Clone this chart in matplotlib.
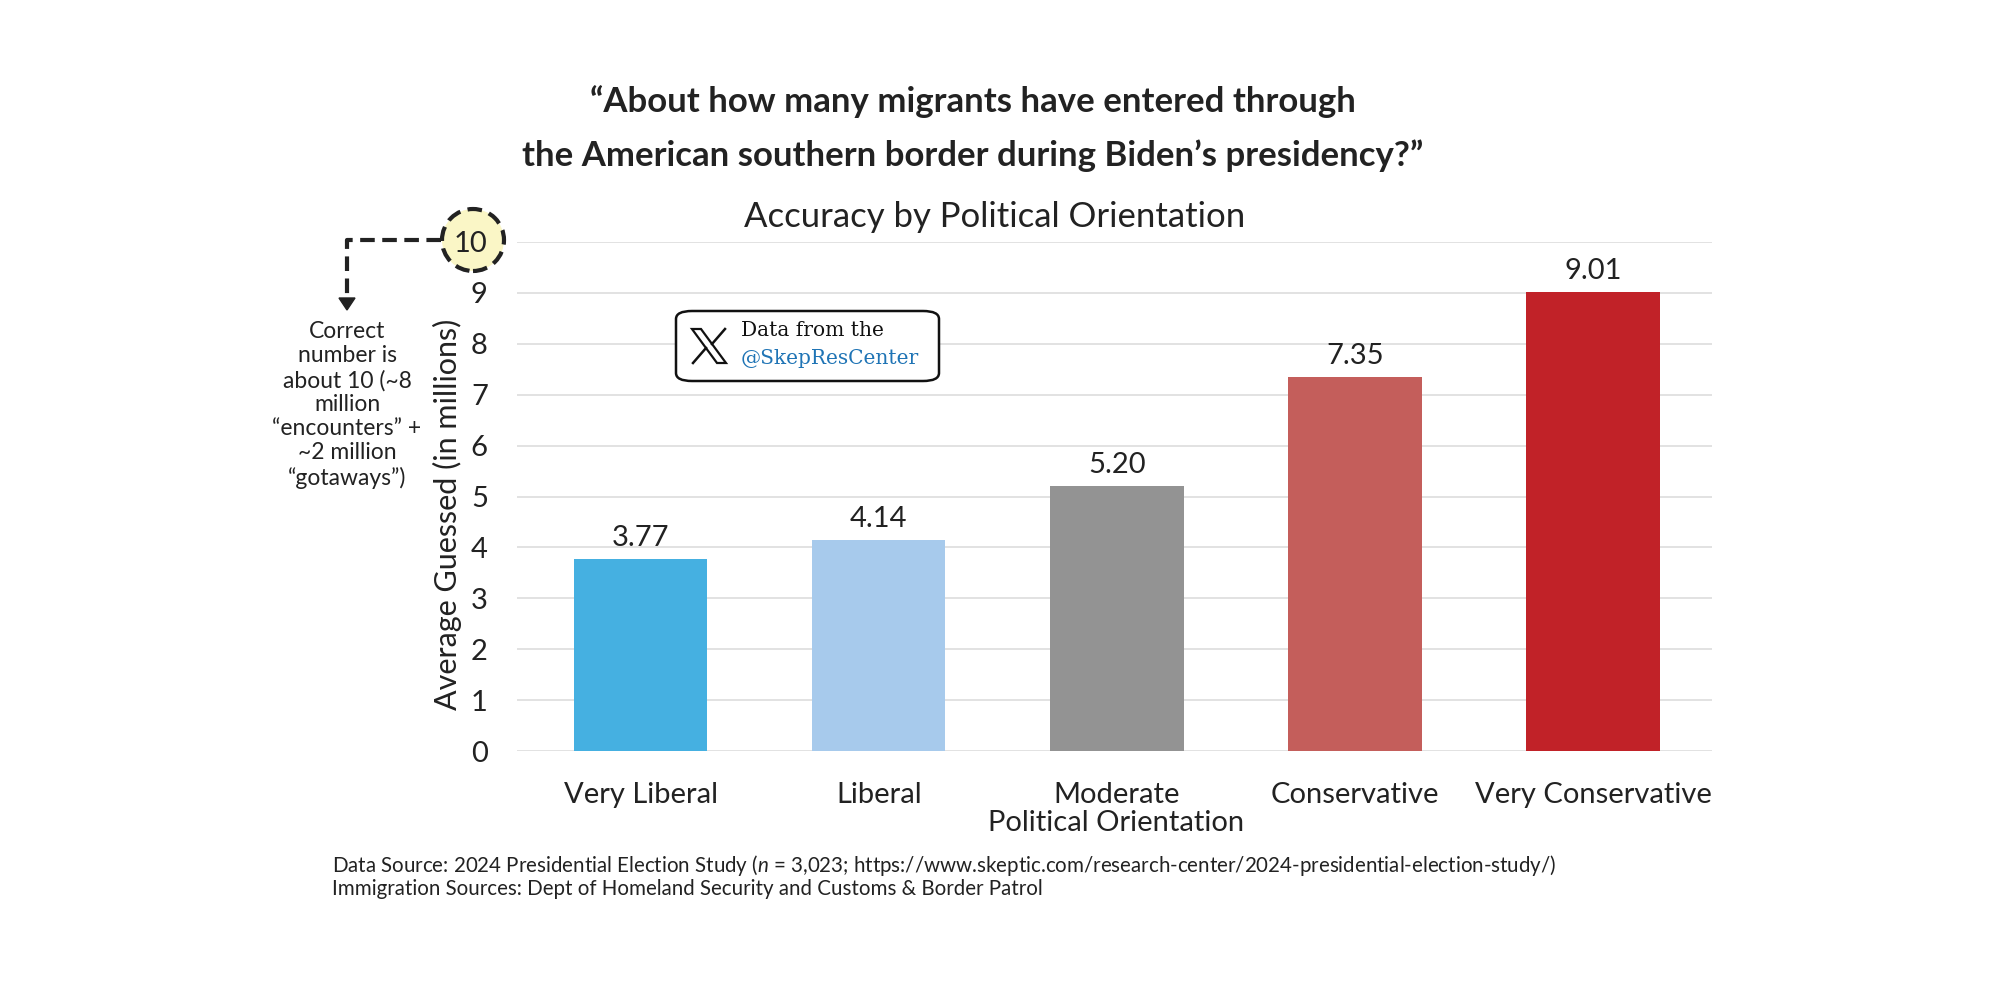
import matplotlib.pyplot as plt
from matplotlib.patches import Ellipse, FancyBboxPatch, Polygon
from matplotlib.lines import Line2D

plt.rcParams['font.family'] = ['Lato', 'DejaVu Sans']
plt.rcParams['mathtext.fontset'] = 'custom'
plt.rcParams['mathtext.it'] = 'Lato:italic'
plt.rcParams['mathtext.rm'] = 'Lato'

# data
categories = ['Very Liberal', 'Liberal', 'Moderate', 'Conservative', 'Very Conservative']
guesses = [3.77, 4.14, 5.20, 7.35, 9.01]
bar_colors = ['#45B0E1', '#A7CAEC', '#939393', '#C45E5B', '#C12228']
y_ticks = list(range(0, 11))

W, H = 2000, 1000


def px(x, y):
    # pixel position (from top-left) to figure fraction
    return x / W, 1 - y / H


fig = plt.figure(figsize=(20, 10), dpi=100)
ax = fig.add_axes([0.2585, 0.249, 0.5975, 0.509])

x = range(len(categories))
bars = ax.bar(x, guesses, width=0.56, color=bar_colors, zorder=2)
ax.bar_label(bars, fmt='%.2f', padding=6, fontsize=21, color='#222222')

ax.set_xlim(-0.52, 4.5)
ax.set_ylim(0, 10)
ax.set_yticks(y_ticks)
ax.set_xticks(list(x))
ax.set_xticklabels(categories)
ax.tick_params(length=0, labelsize=21, colors='#222222')
ax.tick_params(axis='y', pad=21)
ax.tick_params(axis='x', pad=22)
for s in ax.spines.values():
    s.set_visible(False)
ax.yaxis.grid(True, color='#DDDDDD', linewidth=1.2)
ax.set_axisbelow(True)

ax.set_ylabel('Average Guessed (in millions)', fontsize=22, color='#222222')
ax.yaxis.set_label_coords(-0.046, 0.464)
fig.text(0.558, 0.177, 'Political Orientation', ha='center', va='center',
         fontsize=21, color='#222222')

# titles
fig.text(0.4865, 0.898, '\u201cAbout how many migrants have entered through',
         ha='center', va='center', fontsize=25, fontweight='bold', color='#222222')
fig.text(0.4865, 0.844, 'the American southern border during Biden\u2019s presidency?\u201d',
         ha='center', va='center', fontsize=25, fontweight='bold', color='#222222')
fig.text(0.4975, 0.783, 'Accuracy by Political Orientation', ha='center', va='center',
         fontsize=25, color='#222222')

# circled correct value
dash = (0, (3.5, 1.8))
fig.add_artist(Ellipse(px(473, 240), 62 / W, 62 / H, facecolor='#FAF6C6',
                       edgecolor='#222222', linewidth=3, linestyle=dash, zorder=-1))
fig.add_artist(Line2D([441 / W, 347 / W, 347 / W], [0.760, 0.760, 0.700],
                      color='#222222', linewidth=3, linestyle=dash))
fig.add_artist(Polygon([px(339, 298), px(355, 298), px(347, 310)], closed=True,
                       facecolor='#222222', edgecolor='#222222'))
fig.text(0.1735, 0.595,
         'Correct\nnumber is\nabout 10 (~8\nmillion\n\u201cencounters\u201d +\n~2 million\n\u201cgotaways\u201d)',
         ha='center', va='center', fontsize=16.5, color='#222222', linespacing=1.18)

# X / data credit box
x0, y0 = px(676, 381)
x1, y1 = px(939, 311)
fig.add_artist(FancyBboxPatch((x0, y0), x1 - x0, y1 - y0,
                              boxstyle='round,pad=0,rounding_size=0.008',
                              facecolor='white', edgecolor='#111111', linewidth=1.8,
                              zorder=3))
# X logo
cx, cy, hs = 709, 346, 17
fig.add_artist(Polygon([px(cx - hs, cy - hs), px(cx - hs + 9, cy - hs),
                        px(cx + hs, cy + hs), px(cx + hs - 9, cy + hs)], closed=True,
                       facecolor='white', edgecolor='#111111', linewidth=1.6, zorder=4))
fig.add_artist(Line2D([(cx + hs - 1) / W, (cx + 3) / W], [1 - (cy - hs) / H, 1 - (cy - 2) / H],
                      color='#111111', linewidth=1.8, zorder=4))
fig.add_artist(Line2D([(cx - 3) / W, (cx - hs + 1) / W], [1 - (cy + 2) / H, 1 - (cy + hs) / H],
                      color='#111111', linewidth=1.8, zorder=4))
fig.text(741 / W, 0.670, 'Data from the', ha='left', va='center', fontsize=14.5,
         family='DejaVu Serif', color='#111111', zorder=5)
fig.text(741 / W, 0.642, '@SkepResCenter', ha='left', va='center', fontsize=14.5,
         family='DejaVu Serif', color='#1F74B5', zorder=5)

# sources
fig.text(0.166, 0.135,
         'Data Source: 2024 Presidential Election Study ($n$ = 3,023; '
         'https://www.skeptic.com/research-center/2024-presidential-election-study/)',
         ha='left', va='center', fontsize=14.8, color='#222222')
fig.text(0.166, 0.111,
         'Immigration Sources: Dept of Homeland Security and Customs & Border Patrol',
         ha='left', va='center', fontsize=14.8, color='#222222')

fig.savefig('out.png', dpi=100, facecolor='white')
